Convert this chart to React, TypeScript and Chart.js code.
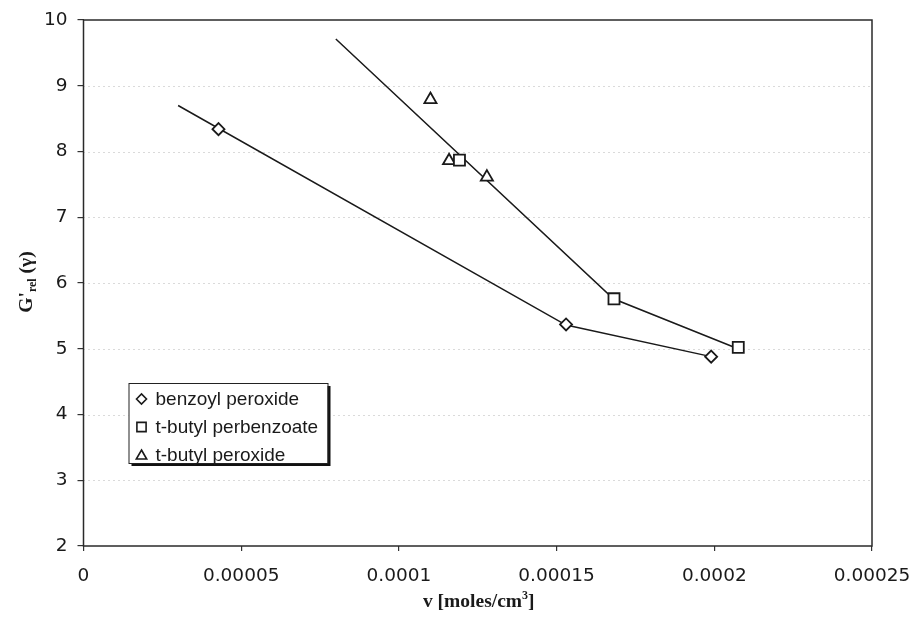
import React, { useEffect, useRef } from "react";
import { Chart, registerables } from "chart.js";
import { drawPoint } from "chart.js/helpers";

Chart.register(...registerables);

// Measured values: crosslink density v [moles/cm^3] vs. relative modulus G'rel(γ)
const benzoylX = [0.0000428, 0.000153, 0.000199];
const benzoylY = [8.34, 5.37, 4.88];

const perbenzoateX = [0.0001192, 0.0001682, 0.0002076];
const perbenzoateY = [7.87, 5.76, 5.02];

const peroxideX = [0.00011, 0.0001159, 0.0001279];
const peroxideY = [8.79, 7.86, 7.61];

// Trend lines drawn through the data
const benzoylFitX = [0.00003, 0.000153, 0.000199];
const benzoylFitY = [8.7, 5.36, 4.88];

const perFitX = [0.00008, 0.000168, 0.0002075];
const perFitY = [9.71, 5.76, 5.0];

const seriesNames = ["benzoyl peroxide", "t-butyl perbenzoate", "t-butyl peroxide"];
const xTickLabels = ["0", "0.00005", "0.0001", "0.00015", "0.0002", "0.00025"];
const yTickLabels = ["2", "3", "4", "5", "6", "7", "8", "9", "10"];

const toPoints = (xs: number[], ys: number[]) => xs.map((x, i) => ({ x, y: ys[i] }));

const INK = "#1a1a1a";
const TICK_FONT = 'Verdana, "DejaVu Sans", sans-serif';
const LEGEND_FONT = 'Arial, "Liberation Sans", sans-serif';
const TITLE_FONT = '"Times New Roman", "Liberation Serif", serif';

const framePlugin = {
  id: "frameAndGrid",
  beforeDatasetsDraw(chart: any) {
    const { ctx, chartArea: a, scales } = chart;
    const y = scales.y;
    ctx.save();
    // dotted horizontal gridlines
    ctx.strokeStyle = "#b4b4b4";
    ctx.lineWidth = 1;
    ctx.setLineDash([1, 4]);
    y.ticks.forEach((t: any) => {
      if (t.value <= y.min || t.value >= y.max) return;
      const py = Math.round(y.getPixelForValue(t.value)) + 0.5;
      ctx.beginPath();
      ctx.moveTo(a.left, py);
      ctx.lineTo(a.right, py);
      ctx.stroke();
    });
    ctx.setLineDash([]);
    // plot frame
    ctx.strokeStyle = "#2a2a2a";
    ctx.lineWidth = 1.5;
    ctx.strokeRect(a.left, a.top, a.right - a.left, a.bottom - a.top);
    ctx.restore();
  },
  afterDraw(chart: any) {
    const { ctx, chartArea: a } = chart;
    ctx.save();

    // legend box with drop shadow
    const lx = a.left + 45;
    const ly = a.top + 363;
    const lw = 199;
    const lh = 80;
    ctx.fillStyle = "#111";
    ctx.fillRect(lx + 3, ly + 3, lw, lh);
    ctx.fillStyle = "#fff";
    ctx.fillRect(lx, ly, lw, lh);
    ctx.strokeStyle = "#222";
    ctx.lineWidth = 1;
    ctx.strokeRect(lx + 0.5, ly + 0.5, lw, lh);

    const styles = ["rectRot", "rect", "triangle"];
    const radii = [5, 6.5, 6];
    ctx.font = `19px ${LEGEND_FONT}`;
    ctx.textBaseline = "middle";
    ctx.textAlign = "left";
    seriesNames.forEach((name, i) => {
      const cy = ly + 16 + i * 28;
      ctx.strokeStyle = INK;
      ctx.fillStyle = "#fff";
      ctx.lineWidth = 1.6;
      drawPoint(ctx, { pointStyle: styles[i], radius: radii[i], rotation: 0, borderWidth: 1.6 }, lx + 13, cy + (i === 2 ? 1 : 0));
      ctx.fillStyle = INK;
      ctx.fillText(name, lx + 27, cy + 1);
    });

    // x axis title: v [moles/cm3]
    ctx.fillStyle = INK;
    ctx.textBaseline = "alphabetic";
    const big = `bold 19.5px ${TITLE_FONT}`;
    const small = `bold 12px ${TITLE_FONT}`;
    const xParts = [
      { t: "v [moles/cm", f: big, dy: 0 },
      { t: "3", f: small, dy: -8 },
      { t: "]", f: big, dy: 0 },
    ];
    let total = 0;
    xParts.forEach((p) => {
      ctx.font = p.f;
      total += ctx.measureText(p.t).width;
    });
    let px = (a.left + a.right) / 2 - total / 2 + 1;
    const baseY = 607;
    xParts.forEach((p) => {
      ctx.font = p.f;
      ctx.fillText(p.t, px, baseY + p.dy);
      px += ctx.measureText(p.t).width;
    });

    // y axis title: G'rel (γ)
    const yParts = [
      { t: "G'", f: big, dy: 0 },
      { t: "rel", f: small, dy: 4 },
      { t: " (γ)", f: big, dy: 0 },
    ];
    total = 0;
    yParts.forEach((p) => {
      ctx.font = p.f;
      total += ctx.measureText(p.t).width;
    });
    ctx.translate(32, 282);
    ctx.rotate(-Math.PI / 2);
    px = -total / 2;
    yParts.forEach((p) => {
      ctx.font = p.f;
      ctx.fillText(p.t, px, p.dy);
      px += ctx.measureText(p.t).width;
    });
    ctx.restore();
  },
};

export default function App() {
  const canvasRef = useRef<HTMLCanvasElement | null>(null);

  useEffect(() => {
    if (!canvasRef.current) return;
    const markerCommon = {
      showLine: false,
      backgroundColor: "#fff",
      borderColor: INK,
      pointBackgroundColor: "#fff",
      pointBorderColor: INK,
      pointBorderWidth: 1.8,
      order: 0,
    };
    const lineCommon = {
      showLine: true,
      borderColor: INK,
      borderWidth: 1.5,
      pointRadius: 0,
      fill: false,
      tension: 0,
      order: 1,
    };
    const chart = new Chart(canvasRef.current, {
      type: "scatter",
      data: {
        datasets: [
          { ...markerCommon, label: seriesNames[0], data: toPoints(benzoylX, benzoylY), pointStyle: "rectRot", pointRadius: 6 },
          { ...markerCommon, label: seriesNames[1], data: toPoints(perbenzoateX, perbenzoateY), pointStyle: "rect", pointRadius: 7.8 },
          { ...markerCommon, label: seriesNames[2], data: toPoints(peroxideX, peroxideY), pointStyle: "triangle", pointRadius: 7 },
          { ...lineCommon, label: "fit benzoyl", data: toPoints(benzoylFitX, benzoylFitY) },
          { ...lineCommon, label: "fit t-butyl", data: toPoints(perFitX, perFitY) },
        ],
      },
      options: {
        animation: false,
        responsive: true,
        maintainAspectRatio: false,
        layout: { padding: { top: 20, right: 42, left: 0, bottom: 0 } },
        plugins: { legend: { display: false }, tooltip: { enabled: false } },
        scales: {
          x: {
            type: "linear",
            min: 0,
            max: 0.00025,
            afterFit: (s: any) => {
              s.height = 79;
              s.paddingLeft = 0;
              s.paddingRight = 0;
            },
            afterBuildTicks: (s: any) => {
              s.ticks = xTickLabels.map((l) => ({ value: parseFloat(l) }));
            },
            ticks: {
              callback: (_v: any, i: number) => xTickLabels[i],
              color: INK,
              font: { family: TICK_FONT, size: 18.5 },
              padding: 14,
              maxRotation: 0,
              autoSkip: false,
            },
            grid: { drawOnChartArea: false, drawTicks: true, tickLength: 5, tickColor: "#333", lineWidth: 1.2 },
            border: { display: false },
          },
          y: {
            type: "linear",
            min: 2,
            max: 10,
            afterFit: (s: any) => {
              s.width = 83.5;
              s.paddingTop = 0;
              s.paddingBottom = 0;
            },
            afterBuildTicks: (s: any) => {
              s.ticks = yTickLabels.map((l) => ({ value: parseFloat(l) }));
            },
            ticks: {
              callback: (_v: any, i: number) => yTickLabels[i],
              color: INK,
              font: { family: TICK_FONT, size: 18.5 },
              padding: 10,
              autoSkip: false,
            },
            grid: { drawOnChartArea: false, drawTicks: true, tickLength: 6, tickColor: "#333", lineWidth: 1.2 },
            border: { display: false },
          },
        },
      },
      plugins: [framePlugin],
    });
    return () => chart.destroy();
  }, []);

  return (
    <div style={{ position: "fixed", left: 0, top: 0, width: 914, height: 625, background: "#fff" }}>
      <canvas ref={canvasRef} />
    </div>
  );
}
